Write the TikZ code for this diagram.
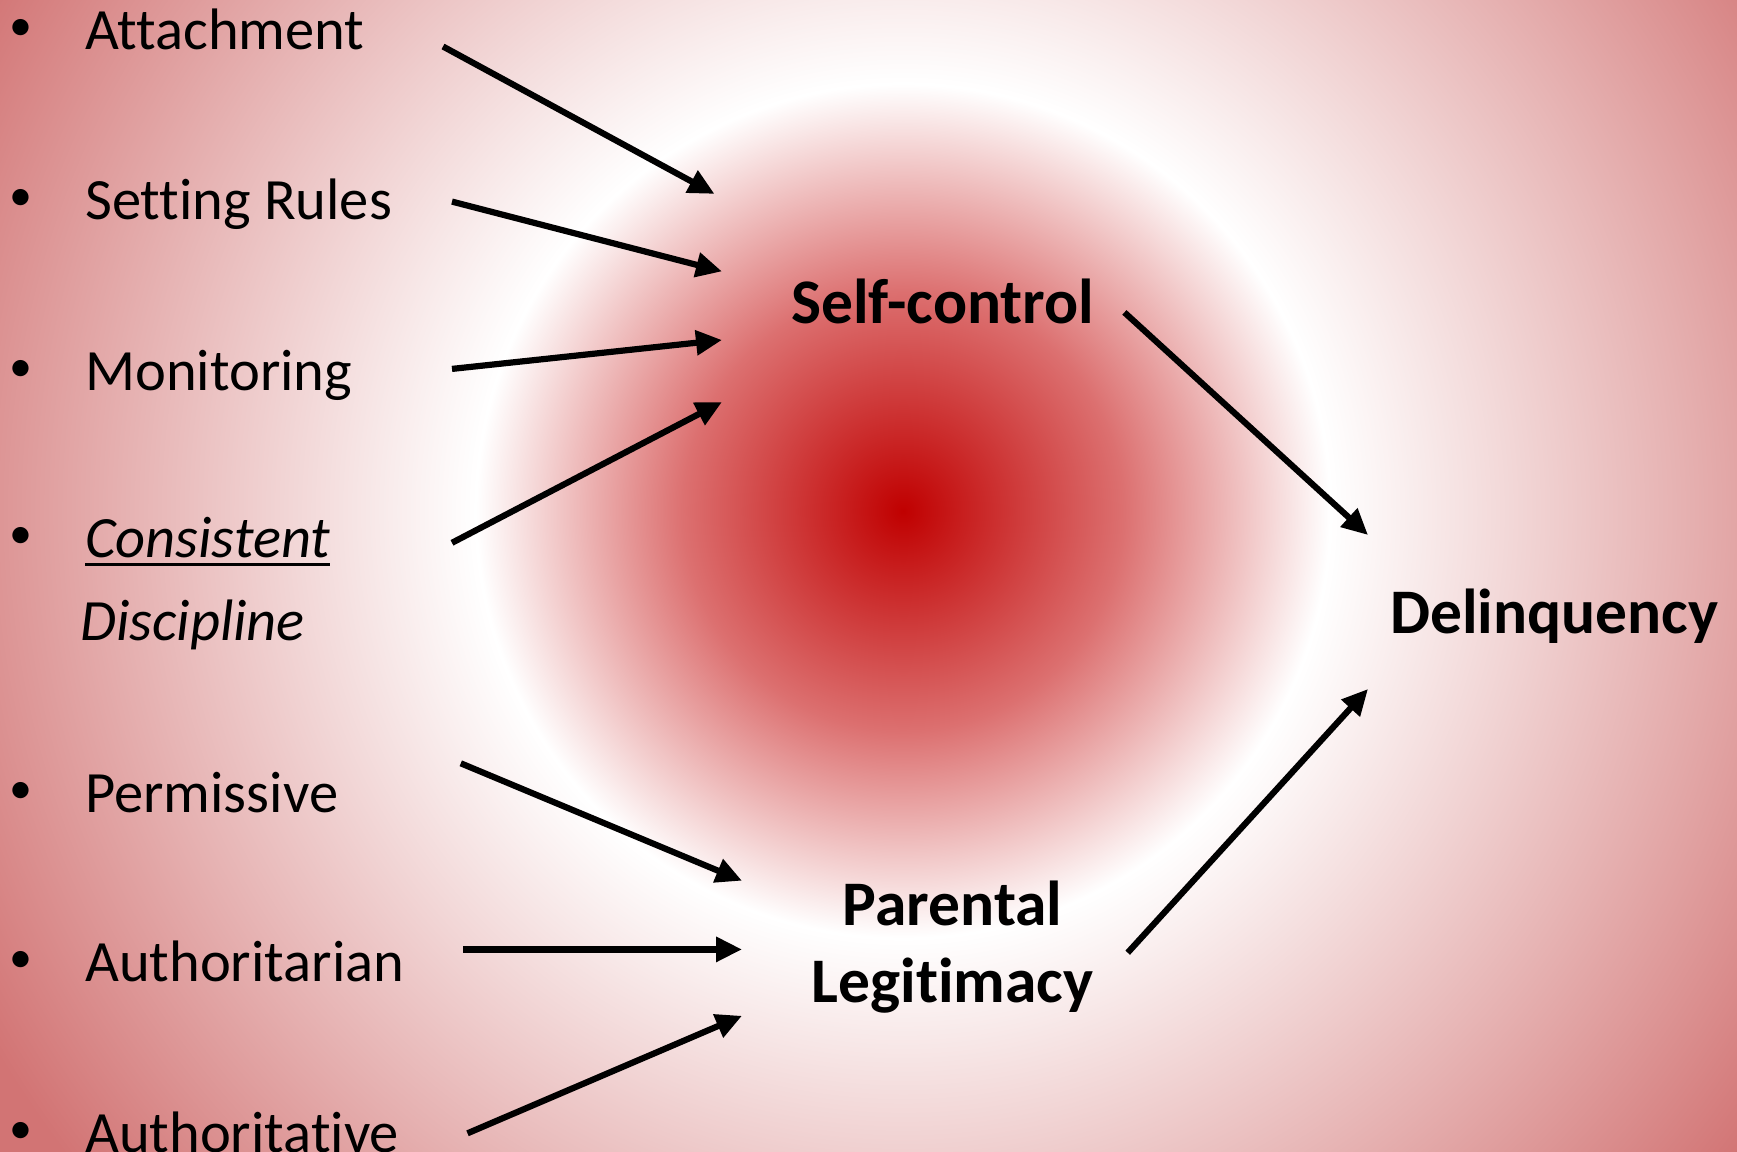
\documentclass[tikz,border=0pt]{standalone}
\usepackage{fontspec}
\setmainfont{Carlito}[Ligatures=NoCommon]
\usetikzlibrary{arrows.meta}
\definecolor{cRed}{RGB}{192,0,0}
\definecolor{cMid}{RGB}{220,112,112}
\definecolor{cOuter}{RGB}{210,116,116}
\pgfdeclareradialshading{bgglow}{\pgfpoint{0bp}{0bp}}{color(0bp)=(cRed); color(5bp)=(cMid); color(9.7bp)=(white); color(24bp)=(cOuter); color(50bp)=(cOuter)}
\newcommand\myul[1]{\setbox0\hbox{#1}\rlap{\rule[-9pt]{\wd0}{3pt}}\box0}
\begin{document}
\begin{tikzpicture}[x=1pt,y=-1pt,
  item/.style={anchor=base west,inner sep=0pt,font=\fontsize{58.5}{70}\selectfont},
  bul/.style={anchor=base,inner sep=0pt,font=\fontsize{46}{55}\selectfont},
  head/.style={inner sep=0pt,font=\bfseries\fontsize{63.5}{76}\selectfont},
  arr/.style={line width=6.2pt,-{Triangle[length=26pt,width=24pt]}}]
\useasboundingbox (0,0) rectangle (1737,1151);
\begin{scope}
\clip (0,0) rectangle (1737,1151);
\shade[shading=bgglow] (-197,-589) rectangle (2003,1611);
\end{scope}
% bullets
\foreach \y/\n in {49.9/b1,219.3/b2,390/b3,557.2/b4,812/b5,981.5/b6,1152/b7}
  \node[bul] (\n) at (21,\y-9) {•};
% items
\node[item] (att) at (85,49.9) {Attachment};
\node[item] (set) at (85,219.3) {Setting Rules};
\node[item] (mon) at (85,390) {Monitoring};
\node[item] (con) at (85,557.2) {\itshape\myul{Consistent}};
\node[item] (dis) at (80,640.3) {\itshape Discipline};
\node[item] (per) at (85,812) {Permissive};
\node[item] (atn) at (85,981.5) {Authoritarian};
\node[item] (ave) at (85,1152) {Authoritative};
% targets
\node[head,anchor=base west] (sc) at (791,323.5) {Self-control};
\node[head,anchor=base west] (del) at (1390,633.7) {Delinquency};
\node[head,anchor=base] (par) at (952.7,925) {Parental};
\node[head,anchor=base] (leg) at (952.7,1002.6) {Legitimacy};
% arrow end points
\coordinate (s1) at (443,46.5);   \coordinate (e1) at (714.5,193.9);
\coordinate (s2) at (452,201.6);  \coordinate (e2) at (722,271.4);
\coordinate (s3) at (452,368.9);  \coordinate (e3) at (722,340);
\coordinate (s4) at (452,542.8);  \coordinate (e4) at (722,402);
\coordinate (s5) at (1124.4,312.4); \coordinate (e5) at (1368,535);
\coordinate (s6) at (460.8,763.3); \coordinate (e6) at (742,880.7);
\coordinate (s7) at (463,949.4);  \coordinate (e7) at (742,949.4);
\coordinate (s8) at (467.5,1133.3); \coordinate (e8) at (742,1015.8);
\coordinate (s9) at (1127.7,952.7); \coordinate (e9) at (1368,689);
\foreach \i in {1,...,9}
  \draw[arr] (s\i) -- (e\i);
\end{tikzpicture}
\end{document}
